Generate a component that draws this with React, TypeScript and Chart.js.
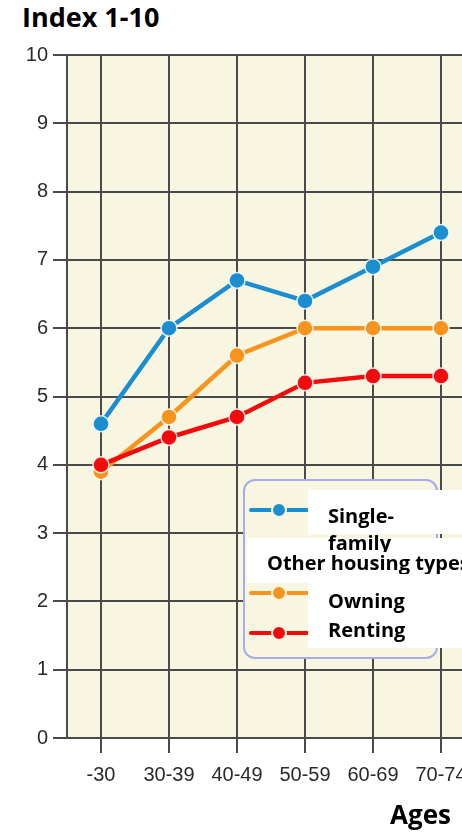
import React, { useEffect, useRef } from 'react';
import { Chart, registerables } from 'chart.js';

Chart.register(...registerables);

// ---- data ----
const AGE_GROUPS = ['-30', '30-39', '40-49', '50-59', '60-69', '70-74'];
const SINGLE_FAMILY = [4.6, 6.0, 6.7, 6.4, 6.9, 7.4];
const OTHER_OWNING = [3.9, 4.7, 5.6, 6.0, 6.0, 6.0];
const OTHER_RENTING = [4.0, 4.4, 4.7, 5.2, 5.3, 5.3];
const Y_MIN = 0;
const Y_MAX = 10;
const Y_STEP = 1;

const TITLE = 'Index 1-10';
const X_TITLE = 'Ages';
const LABEL_SINGLE = 'Single-family';
const LABEL_OTHER = 'Other housing types';
const LABEL_OWNING = 'Owning';
const LABEL_RENTING = 'Renting';

// ---- styles ----
const BLUE = '#1a8ed0';
const ORANGE = '#f7941d';
const RED = '#f30b0b';
const PLOT_BG = '#f8f6e1';
const GRID = '#4a4a4a';
const TICK_TEXT = '#2a2a2a';
const HEAD_FONT = "'Open Sans', 'Noto Sans', sans-serif";
const TICK_FONT = "'Liberation Sans', Arial, sans-serif";

const bgPlugin = {
  id: 'plotBg',
  beforeDraw(chart: any) {
    const { ctx, chartArea: a } = chart;
    ctx.save();
    ctx.fillStyle = PLOT_BG;
    ctx.fillRect(a.left, a.top, a.right - a.left, a.bottom - a.top);
    ctx.restore();
  },
};

function Marker({ color, top }: { color: string; top: number }) {
  return (
    <svg
      width={62}
      height={18}
      style={{ position: 'absolute', left: 248, top: top - 9 }}
    >
      <line x1={3} y1={9} x2={59} y2={9} stroke={color} strokeWidth={4} strokeLinecap="round" />
      <circle cx={31} cy={9} r={7} fill={color} stroke={PLOT_BG} strokeWidth={2} />
    </svg>
  );
}

export default function App() {
  const canvasRef = useRef<HTMLCanvasElement | null>(null);

  useEffect(() => {
    if (!canvasRef.current) return;
    const mk = (label: string, data: number[], color: string, order: number) => ({
      label,
      data,
      borderColor: color,
      backgroundColor: color,
      borderWidth: 4.5,
      pointRadius: 8,
      pointHoverRadius: 8,
      pointBackgroundColor: color,
      pointBorderColor: 'rgba(255,255,255,0.85)',
      pointBorderWidth: 1.5,
      tension: 0,
      fill: false,
      order,
    });
    const chart = new Chart(canvasRef.current, {
      type: 'line',
      data: {
        labels: AGE_GROUPS,
        datasets: [
          mk(LABEL_SINGLE, SINGLE_FAMILY, BLUE, 2),
          mk(LABEL_OWNING, OTHER_OWNING, ORANGE, 1),
          mk(LABEL_RENTING, OTHER_RENTING, RED, 0),
        ],
      },
      options: {
        animation: false,
        responsive: false,
        devicePixelRatio: 1,
        layout: { padding: { top: 55, right: 15, left: 0, bottom: 0 } },
        plugins: {
          legend: { display: false },
          tooltip: { enabled: false },
          title: { display: false },
        },
        scales: {
          x: {
            type: 'category',
            offset: true,
            grid: {
              display: true,
              offset: false,
              color: GRID,
              lineWidth: 2,
              drawTicks: true,
              tickLength: 15,
              tickColor: GRID,
              tickWidth: 2,
            },
            border: { display: true, color: GRID, width: 2 },
            ticks: {
              color: TICK_TEXT,
              font: { family: TICK_FONT, size: 20 },
              padding: 10,
              maxRotation: 0,
              autoSkip: false,
            },
            afterFit: (s: any) => {
              s.height = 62;
            },
          },
          y: {
            min: Y_MIN,
            max: Y_MAX,
            grid: {
              color: GRID,
              lineWidth: 2,
              drawTicks: true,
              tickLength: 14,
              tickColor: GRID,
              tickWidth: 2,
            },
            border: { display: true, color: GRID, width: 2 },
            ticks: {
              stepSize: Y_STEP,
              color: TICK_TEXT,
              font: { family: TICK_FONT, size: 20 },
              padding: 5,
            },
            afterFit: (s: any) => {
              s.width = 67;
            },
          },
        },
      } as any,
      plugins: [bgPlugin],
    });
    return () => chart.destroy();
  }, []);

  const textStyle: React.CSSProperties = {
    fontFamily: HEAD_FONT,
    fontWeight: 700,
    fontSize: 20,
    color: '#000',
    whiteSpace: 'nowrap',
  };

  return (
    <div
      style={{
        position: 'absolute',
        left: 0,
        top: 0,
        width: 462,
        height: 832,
        overflow: 'hidden',
        background: '#fff',
      }}
    >
      <div
        style={{
          position: 'absolute',
          left: 22,
          top: 2,
          fontFamily: HEAD_FONT,
          fontWeight: 700,
          fontSize: 27,
          lineHeight: '30px',
          color: '#000',
          whiteSpace: 'nowrap',
        }}
      >
        {TITLE}
      </div>
      <canvas
        ref={canvasRef}
        width={490}
        height={800}
        style={{ position: 'absolute', left: 0, top: 0, width: 490, height: 800 }}
      />
      <div
        style={{
          position: 'absolute',
          left: 390,
          top: 799,
          fontFamily: HEAD_FONT,
          fontWeight: 700,
          fontSize: 26,
          lineHeight: '30px',
          color: '#000',
          whiteSpace: 'nowrap',
        }}
      >
        {X_TITLE}
      </div>

      {/* legend */}
      <div
        style={{
          position: 'absolute',
          left: 243,
          top: 479,
          width: 191,
          height: 176,
          border: '2px solid #a4acec',
          borderRadius: 12,
          background: PLOT_BG,
        }}
      />
      <Marker color={BLUE} top={510} />
      <Marker color={ORANGE} top={593} />
      <Marker color={RED} top={633} />
      {/* band behind "Other housing types" */}
      <div style={{ position: 'absolute', left: 247, top: 538, width: 230, height: 45, background: '#fff' }} />
      {/* box with Single-family */}
      <div
        style={{
          position: 'absolute',
          left: 308,
          top: 490,
          width: 170,
          height: 44,
          background: '#fff',
        }}
      />
      <div
        style={{
          ...textStyle,
          position: 'absolute',
          left: 328,
          top: 502,
          width: 110,
          lineHeight: '27px',
          whiteSpace: 'normal',
        }}
      >
        {LABEL_SINGLE}
      </div>
      <div
        style={{
          ...textStyle,
          position: 'absolute',
          left: 247,
          top: 552,
          width: 230,
          height: 22,
          lineHeight: '22px',
          paddingLeft: 20,
          boxSizing: 'border-box',
          background: '#fff',
        }}
      >
        {LABEL_OTHER}
      </div>
      <div
        style={{
          position: 'absolute',
          left: 308,
          top: 574,
          width: 170,
          height: 74,
          background: '#fff',
        }}
      />
      <div style={{ ...textStyle, position: 'absolute', left: 328, top: 590, lineHeight: '22px' }}>
        {LABEL_OWNING}
      </div>
      <div style={{ ...textStyle, position: 'absolute', left: 328, top: 619, lineHeight: '22px' }}>
        {LABEL_RENTING}
      </div>
    </div>
  );
}
